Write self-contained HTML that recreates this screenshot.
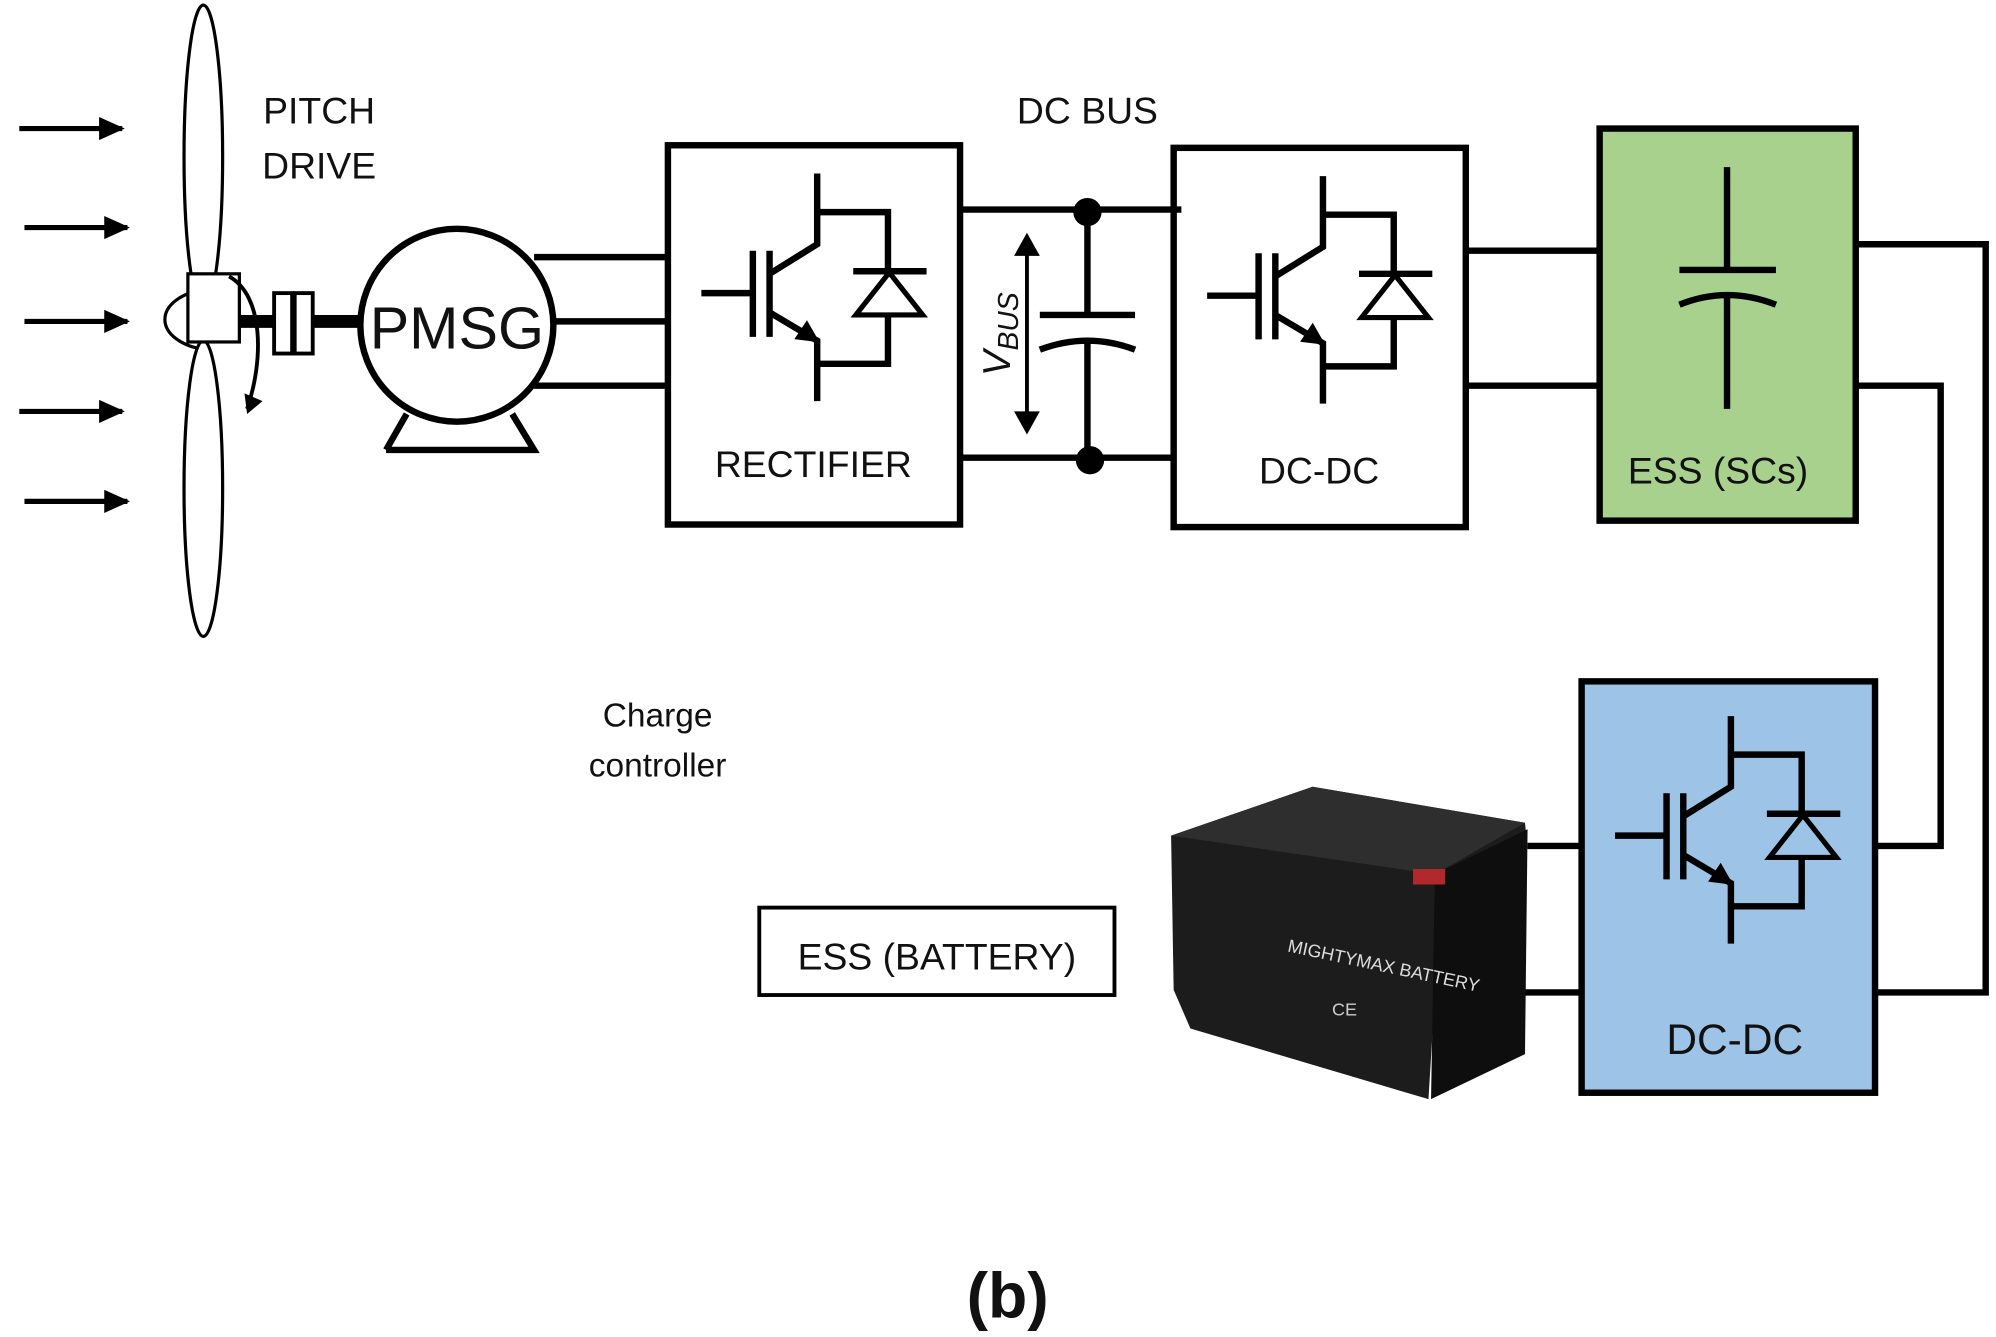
<!DOCTYPE html>
<html><head><meta charset="utf-8"><style>html,body{margin:0;padding:0;background:#fff}svg{display:block}text{font-family:"Liberation Sans",sans-serif;fill:#111}</style></head><body>
<svg width="1996" height="1337" viewBox="0 0 1551 1040" preserveAspectRatio="none" xmlns="http://www.w3.org/2000/svg">
<defs>
<marker id="ah" markerWidth="20" markerHeight="18" refX="18" refY="9" orient="auto" markerUnits="userSpaceOnUse"><path d="M0,0 L20,9 L0,18 z" fill="#000"/></marker>
<g id="igbt" fill="none" stroke="#000" stroke-width="5">
<line x1="0" y1="93" x2="40" y2="93"/>
<line x1="40" y1="60" x2="40" y2="127"/>
<line x1="53" y1="60" x2="53" y2="127"/>
<polyline points="53,78 90,55 90,0"/>
<polyline points="53,108 90,130 90,177"/>
<path d="M90,130 l-16,-2 l8,-12 z" fill="#000" stroke-width="2"/>
<polyline points="90,30 145,30 145,75"/>
<path d="M120,110 L172,110 L146,77 z" stroke-width="4"/>
<line x1="118" y1="76" x2="175" y2="76"/>
<polyline points="145,110 145,148 90,148"/>
</g>
</defs>
<g stroke="#000" stroke-width="4" marker-end="url(#ah)">
<line x1="15" y1="100" x2="95" y2="100"/><line x1="19" y1="177" x2="99" y2="177"/><line x1="19" y1="250" x2="99" y2="250"/><line x1="15" y1="320" x2="95" y2="320"/><line x1="19" y1="390" x2="99" y2="390"/>
</g>
<path d="M160,225 A40,24 0 0 0 160,272 Z" fill="#fff" stroke="#000" stroke-width="2.5"/>
<ellipse cx="158" cy="122" rx="15" ry="118" fill="#fff" stroke="#000" stroke-width="2.5"/>
<ellipse cx="158" cy="380" rx="15" ry="115" fill="#fff" stroke="#000" stroke-width="2.5"/>
<rect x="146" y="213" width="40" height="53" fill="#fff" stroke="#000" stroke-width="2.5"/>
<path d="M178,215 C205,230 205,280 192,318" fill="none" stroke="#000" stroke-width="3"/>
<path d="M192,322 l-2,-16 l14,6 z" fill="#000"/>
<line x1="186" y1="250" x2="285" y2="250" stroke="#000" stroke-width="10"/>
<rect x="213" y="228" width="14" height="47" fill="#fff" stroke="#000" stroke-width="3"/>
<rect x="229" y="228" width="14" height="47" fill="#fff" stroke="#000" stroke-width="3"/>
<path d="M300,350 L415,350 L398,322 M300,350 L316,322" fill="none" stroke="#000" stroke-width="5"/>
<circle cx="355" cy="253" r="75" fill="#fff" stroke="#000" stroke-width="5"/>
<text x="355" y="271" font-size="46" text-anchor="middle">PMSG</text>
<text x="248" y="96" font-size="29" text-anchor="middle">PITCH</text>
<text x="248" y="139" font-size="29" text-anchor="middle">DRIVE</text>
<g stroke="#000" stroke-width="5" fill="none">
<line x1="415" y1="200" x2="520" y2="200"/><line x1="428" y1="250" x2="520" y2="250"/><line x1="415" y1="300" x2="520" y2="300"/>
<rect x="519" y="113" width="227" height="295"/>
<line x1="746" y1="163" x2="918" y2="163"/><line x1="746" y1="356" x2="912" y2="356"/>
<line x1="845" y1="165" x2="845" y2="245"/><line x1="808" y1="245" x2="882" y2="245"/>
<path d="M808,272 Q845,258 882,272"/><line x1="845" y1="264" x2="845" y2="358"/>
<rect x="912" y="115" width="227" height="295"/>
<line x1="1139" y1="195" x2="1243" y2="195"/><line x1="1139" y1="300" x2="1243" y2="300"/>
<polyline points="1442,190 1543,190 1543,772 1458,772"/>
<polyline points="1442,300 1508,300 1508,658 1458,658"/>
<line x1="1187" y1="658" x2="1229" y2="658"/><line x1="1175" y1="772" x2="1229" y2="772"/>
</g>
<circle cx="845" cy="165" r="11" fill="#000"/><circle cx="847" cy="358" r="11" fill="#000"/>
<g stroke="#000" stroke-width="3"><line x1="798" y1="195" x2="798" y2="325"/></g>
<path d="M798,181 l-10,18 h20 z M798,338 l-10,-18 h20 z" fill="#000"/>
<text transform="translate(785,260) rotate(-90)" font-size="30" font-style="italic" font-family="Liberation Serif" text-anchor="middle">V<tspan font-size="22" dy="6">BUS</tspan></text>
<text x="845" y="96" font-size="29" text-anchor="middle">DC BUS</text>
<use href="#igbt" x="545" y="135"/>
<text x="632" y="371" font-size="29" text-anchor="middle">RECTIFIER</text>
<use href="#igbt" x="938" y="137"/>
<text x="1025" y="376" font-size="29" text-anchor="middle">DC-DC</text>
<rect x="1243" y="100" width="199" height="305" fill="#a9d18e" stroke="#000" stroke-width="5"/>
<g stroke="#000" stroke-width="5" fill="none">
<line x1="1342" y1="130" x2="1342" y2="210"/><line x1="1305" y1="210" x2="1380" y2="210"/>
<path d="M1305,237 Q1342,222 1380,237"/><line x1="1342" y1="228" x2="1342" y2="318"/>
</g>
<text x="1335" y="376" font-size="29" text-anchor="middle">ESS (SCs)</text>
<rect x="1229" y="530" width="228" height="320" fill="#9dc3e6" stroke="#000" stroke-width="5"/>
<use href="#igbt" x="1255" y="557"/>
<text x="1348" y="820" font-size="33" text-anchor="middle">DC-DC</text>
<path d="M910,650 L1020,612 L1185,640 L1187,660 L1120,690 L1110,855 L925,800 L912,770 Z" fill="#1c1c1c"/>
<path d="M910,650 L1020,612 L1185,640 L1115,680 Z" fill="#2e2e2e"/>
<path d="M1115,680 L1187,645 L1185,820 L1112,855 Z" fill="#0e0e0e"/>
<rect x="1098" y="676" width="25" height="12" fill="#b3282d"/>
<text x="1000" y="740" font-size="14" style="fill:#ddd" transform="rotate(12 1000 740)">MIGHTYMAX BATTERY</text>
<text x="1035" y="790" font-size="14" style="fill:#ccc">CE</text>
<rect x="590" y="706" width="276" height="68" fill="#fff" stroke="#000" stroke-width="3"/>
<text x="728" y="754" font-size="29" text-anchor="middle">ESS (BATTERY)</text>
<text x="511" y="565" font-size="26" text-anchor="middle">Charge</text>
<text x="511" y="604" font-size="26" text-anchor="middle">controller</text>
<text x="783" y="1025" font-size="50" font-weight="bold" font-family="Liberation Serif" text-anchor="middle">(b)</text>
</svg>
</body></html>
